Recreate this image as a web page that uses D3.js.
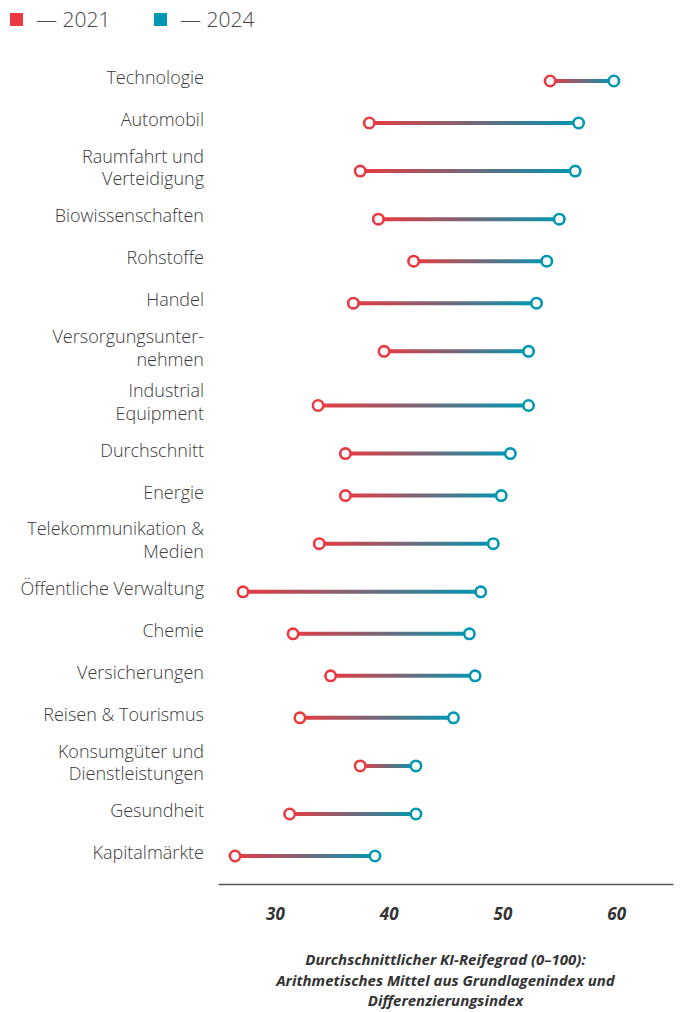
<!DOCTYPE html>
<html>
<head>
<meta charset="utf-8">
<script src="https://cdn.jsdelivr.net/npm/d3@7"></script>
<style>
  body { margin: 0; background: #fff; }
  svg { display: block; font-family: "Open Sans", "Noto Sans", sans-serif; }
</style>
</head>
<body>
<svg id="chart"></svg>
<script>
/* data */
const sectors = [
  ["Technologie"],
  ["Automobil"],
  ["Raumfahrt und", "Verteidigung"],
  ["Biowissenschaften"],
  ["Rohstoffe"],
  ["Handel"],
  ["Versorgungsunter-", "nehmen"],
  ["Industrial", "Equipment"],
  ["Durchschnitt"],
  ["Energie"],
  ["Telekommunikation &", "Medien"],
  ["Öffentliche Verwaltung"],
  ["Chemie"],
  ["Versicherungen"],
  ["Reisen & Tourismus"],
  ["Konsumgüter und", "Dienstleistungen"],
  ["Gesundheit"],
  ["Kapitalmärkte"]
];
const values2021 = [54.2, 38.3, 37.5, 39.1, 42.2, 36.9, 39.6, 33.8, 36.2, 36.2, 33.9, 27.2, 31.6, 34.9, 32.2, 37.5, 31.3, 26.5];
const values2024 = [59.8, 56.7, 56.4, 55.0, 53.9, 53.0, 52.3, 52.3, 50.7, 49.9, 49.2, 48.1, 47.1, 47.6, 45.7, 42.4, 42.4, 38.8];
const xTicks = [30, 40, 50, 60];
const years = ["2021", "2024"];
const axisTitle = [
  "Durchschnittlicher KI-Reifegrad (0–100):",
  "Arithmetisches Mittel aus Grundlagenindex und",
  "Differenzierungsindex"
];

const width = 681, height = 1012;
const red = "#e83a40", teal = "#0097b2";

const svg = d3.select("#chart")
  .attr("width", width)
  .attr("height", height);

const x = d3.scaleLinear().domain([25, 65]).range([218, 673]);

/* rows with two-line labels get more room */
const rowH = n => n === 1 ? 42 : 54.2;
let acc = 60;
const rows = sectors.map((lab, i) => {
  const h = rowH(lab.length);
  const cy = acc + h / 2;
  acc += h;
  return { lab, cy, a: values2021[i], b: values2024[i], i };
});

/* legend */
const legend = svg.append("g");
[red, teal].forEach((c, i) => {
  const g = legend.append("g").attr("transform", `translate(${10 + i * 144},13)`);
  g.append("rect").attr("width", 13).attr("height", 13).attr("fill", c);
  g.append("text")
    .attr("x", 26).attr("y", 14)
    .attr("font-size", 21)
    .attr("font-weight", 300)
    .attr("fill", "#444")
    .text("— " + years[i]);
});

/* gradients */
const defs = svg.append("defs");
rows.forEach(r => {
  const gr = defs.append("linearGradient")
    .attr("id", "grad" + r.i)
    .attr("gradientUnits", "userSpaceOnUse")
    .attr("x1", x(r.a)).attr("x2", x(r.b))
    .attr("y1", 0).attr("y2", 0);
  gr.append("stop").attr("offset", "0%").attr("stop-color", red);
  gr.append("stop").attr("offset", "100%").attr("stop-color", teal);
});

/* labels */
const labels = svg.append("g")
  .selectAll("text")
  .data(rows)
  .enter().append("text")
  .attr("x", 204)
  .attr("text-anchor", "end")
  .attr("font-size", 18)
  .attr("font-weight", 300)
  .attr("fill", "#3a3a3a");
labels.each(function (r) {
  const t = d3.select(this);
  const lh = 22.5;
  const y0 = r.cy - (r.lab.length - 1) * lh / 2 + 3;
  r.lab.forEach((s, k) => {
    t.append("tspan").attr("x", 204).attr("y", y0 + k * lh).text(s);
  });
});

/* dumbbells */
svg.append("g")
  .selectAll("line")
  .data(rows)
  .enter().append("line")
  .attr("x1", r => x(r.a))
  .attr("x2", r => x(r.b))
  .attr("y1", r => r.cy)
  .attr("y2", r => r.cy)
  .attr("stroke", r => `url(#grad${r.i})`)
  .attr("stroke-width", 4);

const dots = svg.append("g");
dots.selectAll("circle.a")
  .data(rows)
  .enter().append("circle")
  .attr("class", "a")
  .attr("cx", r => x(r.a))
  .attr("cy", r => r.cy)
  .attr("r", 5.2)
  .attr("fill", "#fff")
  .attr("stroke", red)
  .attr("stroke-width", 2.6);
dots.selectAll("circle.b")
  .data(rows)
  .enter().append("circle")
  .attr("class", "b")
  .attr("cx", r => x(r.b))
  .attr("cy", r => r.cy)
  .attr("r", 5.2)
  .attr("fill", "#fff")
  .attr("stroke", teal)
  .attr("stroke-width", 2.6);

/* x axis */
const axis = svg.append("g")
  .attr("transform", "translate(0,884)")
  .call(d3.axisBottom(x).tickValues(xTicks).tickSize(0).tickPadding(24));
axis.select(".domain").attr("stroke", "#555").attr("stroke-width", 1.5);
axis.selectAll("text")
  .attr("font-family", "'Open Sans', sans-serif")
  .attr("font-size", 17)
  .attr("font-weight", "bold")
  .attr("font-style", "italic")
  .attr("fill", "#333");

svg.append("text")
  .attr("text-anchor", "middle")
  .attr("font-size", 15)
  .attr("font-weight", "bold")
  .attr("font-style", "italic")
  .attr("fill", "#333")
  .selectAll("tspan")
  .data(axisTitle)
  .enter().append("tspan")
  .attr("x", (x.range()[0] + x.range()[1]) / 2)
  .attr("y", (d, k) => 965 + k * 20.5)
  .text(d => d);
</script>
</body>
</html>
